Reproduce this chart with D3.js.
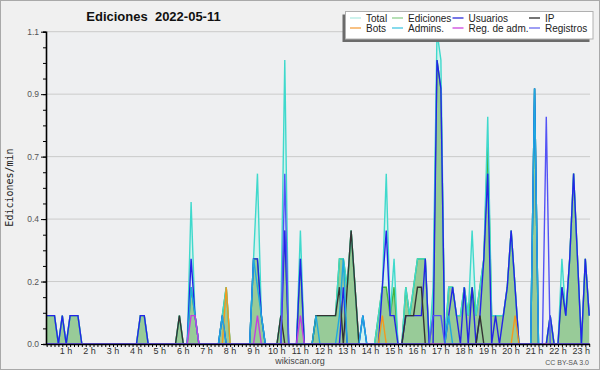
<!DOCTYPE html>
<html><head><meta charset="utf-8">
<script src="https://cdn.jsdelivr.net/npm/d3@7"></script>
<style>body{margin:0;background:#f0f0f0}svg{display:block}text{white-space:pre}</style>
</head><body><svg id="c" width="600" height="370"></svg>
<script>
// 10-minute samples (index 0 = 00:00) of edits per minute
const total = [
0.1,0.1,0.1,0,0.1,0,0.1,0.1,0.1,0,
0,0,0,0,0,0,0,0,0,0,
0,0,0,0,0.1,0.1,0,0,0,0,
0,0,0,0,0.1,0,0,0.5,0.1,0,
0,0,0,0,0,0.1,0.2,0,0,0,
0,0,0,0.3,0.6,0.1,0,0,0,0,
0.1,1.0,0,0,0,0.4,0,0,0,0.1,
0.1,0.1,0.1,0.1,0.1,0.3,0.3,0.2,0.4,0.2,
0,0.1,0,0,0,0.1,0.2,0.6,0.1,0.3,
0,0,0.2,0.1,0.2,0.3,0.3,0.3,0,0.2,
1.1,1.0,0,0.2,0.2,0.1,0.1,0.2,0.1,0.4,
0.1,0.2,0.3,0.8,0.1,0.1,0.1,0.1,0.2,0.4,
0.2,0,0,0,0,0.9,0,0,0,0.1,
0,0,0.3,0.1,0.3,0.6,0.3,0,0.3,0.1];
const ediciones = [
0.1,0.1,0.1,0,0.1,0,0.1,0.1,0.1,0,
0,0,0,0,0,0,0,0,0,0,
0,0,0,0,0.1,0.1,0,0,0,0,
0,0,0,0,0.1,0,0,0.2,0.1,0,
0,0,0,0,0,0.1,0.2,0,0,0,
0,0,0,0.3,0.3,0.1,0,0,0,0,
0.1,0.4,0,0,0,0.3,0,0,0,0.1,
0.1,0.1,0.1,0.1,0.1,0.3,0.3,0.2,0.4,0.2,
0,0,0,0,0,0.1,0.2,0.2,0.1,0.2,
0,0,0.2,0.1,0.2,0.3,0.3,0.3,0,0.1,
1.0,0.9,0,0.2,0.2,0.1,0.1,0.2,0.1,0.2,
0.1,0.2,0.3,0.7,0.1,0.1,0.1,0.1,0.2,0.4,
0.2,0,0,0,0,0.9,0,0,0,0.1,
0,0,0.2,0.1,0.3,0.6,0.3,0,0.3,0.1];
const usuarios = [
0.1,0.1,0.1,0,0.1,0,0.1,0.1,0.1,0,
0,0,0,0,0,0,0,0,0,0,
0,0,0,0,0.1,0.1,0,0,0,0,
0,0,0,0,0,0,0,0.3,0.1,0,
0,0,0,0,0,0.1,0,0,0,0,
0,0,0,0.3,0.3,0.1,0,0,0,0,
0,0.4,0,0,0,0.3,0,0,0,0,
0,0,0,0,0,0,0.2,0,0,0,
0,0.1,0,0,0,0,0.2,0.4,0.1,0.1,
0,0,0.1,0.1,0.1,0.1,0.1,0.3,0,0,
1.0,0.9,0,0.1,0.2,0.1,0,0.2,0,0.2,
0,0.1,0.3,0.6,0,0.1,0,0.1,0.2,0.4,
0.2,0,0,0,0,0.9,0,0,0,0.1,
0,0,0.2,0.1,0.3,0.6,0.3,0,0.3,0.1];
const ip = [
0,0,0,0,0,0,0,0,0,0,
0,0,0,0,0,0,0,0,0,0,
0,0,0,0,0,0,0,0,0,0,
0,0,0,0,0.1,0,0,0,0,0,
0,0,0,0,0,0,0,0,0,0,
0,0,0,0,0,0,0,0,0,0,
0.1,0,0,0,0,0,0,0,0,0.1,
0.1,0.1,0.1,0.1,0.1,0.2,0,0.2,0.4,0.2,
0,0,0,0,0,0,0,0,0,0,
0,0,0.1,0.1,0.1,0.2,0.2,0,0,0,
0,0,0,0,0,0,0,0,0,0,
0,0.1,0,0,0,0,0,0,0,0,
0,0,0,0,0,0,0,0,0,0,
0,0,0,0,0,0,0,0,0,0];
const bots = [
0,0,0,0,0,0,0,0,0,0,
0,0,0,0,0,0,0,0,0,0,
0,0,0,0,0,0,0,0,0,0,
0,0,0,0,0,0,0,0,0,0,
0,0,0,0,0,0,0.2,0,0,0,
0,0,0,0,0,0,0,0,0,0,
0,0,0,0,0,0,0,0,0,0,
0,0,0,0,0,0,0,0,0,0,
0,0,0,0,0,0,0.1,0,0,0,
0,0,0,0,0,0,0,0,0,0,
0,0,0,0,0,0,0,0,0,0,
0,0,0,0,0,0,0,0,0,0,
0.1,0,0,0,0,0,0,0,0,0,
0,0,0,0,0,0,0,0,0,0];
const admins = [
0,0,0,0,0,0,0,0,0,0,
0,0,0,0,0,0,0,0,0,0,
0,0,0,0,0,0,0,0,0,0,
0,0,0,0,0,0,0,0.2,0.1,0,
0,0,0,0,0,0.1,0,0,0,0,
0,0,0,0.3,0.2,0.1,0,0,0,0,
0,0,0,0,0,0,0,0,0,0.1,
0,0,0,0,0,0.1,0.3,0,0,0,
0,0.1,0,0,0,0,0,0,0,0,
0,0,0,0,0,0,0,0,0,0,
0,0,0,0.1,0,0,0,0,0,0,
0,0,0,0,0,0,0,0,0,0,
0,0,0,0,0,0.9,0,0,0,0,
0,0,0,0,0,0,0,0,0,0];
const regAdm = [
0,0,0,0,0,0,0,0,0,0,
0,0,0,0,0,0,0,0,0,0,
0,0,0,0,0,0,0,0,0,0,
0,0,0,0,0,0,0,0.1,0.1,0,
0,0,0,0,0,0,0,0,0,0,
0,0,0,0,0.1,0,0,0,0,0,
0,0,0,0,0,0.1,0,0,0,0,
0,0,0,0,0,0,0,0,0,0,
0,0,0,0,0,0,0,0,0,0,
0,0,0,0,0,0,0,0,0,0,
0,0,0,0,0,0,0,0,0,0,
0,0,0,0,0,0,0,0,0,0,
0,0,0,0,0,0,0,0,0,0,
0,0,0,0,0,0,0,0,0,0];
const registros = [
0,0,0,0,0,0,0,0,0,0,
0,0,0,0,0,0,0,0,0,0,
0,0,0,0,0,0,0,0,0,0,
0,0,0,0,0,0,0,0,0,0,
0,0,0,0,0,0,0,0,0,0,
0,0,0,0,0,0,0,0,0,0,
0,0.6,0,0,0,0,0,0,0,0,
0,0,0,0,0,0,0,0,0,0,
0,0,0,0,0,0,0,0,0,0,
0,0,0,0,0,0,0,0,0,0.1,
0.1,0.1,0,0,0,0,0,0,0,0,
0,0,0,0,0,0,0,0,0,0,
0,0,0,0,0,0,0,0,0.8,0,
0,0,0,0,0,0,0,0,0,0];

const hourLabels = d3.range(1,24).map(h => h + " h");
const yTicks = [0, 0.22, 0.44, 0.66, 0.88, 1.1];
const yTickLabels = ["0.0","0.2","0.4","0.7","0.9","1.1"];
const legendNames = ["Total","Ediciones","Usuarios","IP","Bots","Admins.","Reg. de adm.","Registros"];
const legendColors = ["#b2ebe4","#8fd08f","#2b2bd8","#2a2a2a","#f4a040","#45c6e2","#cc44dd","#6a6aee"];

const W = 600, H = 370;
const pL = 46, pR = 590, pT = 31.7, pB = 344;
const svg = d3.select("#c");
const font = "'Liberation Sans', Arial, sans-serif";

svg.append("rect").attr("x",0.5).attr("y",0.5).attr("width",W-1).attr("height",H-1)
  .attr("fill","#f0f0f0").attr("stroke","#a9a9a9");
svg.append("rect").attr("x",pL).attr("y",pT).attr("width",pR-pL).attr("height",pB-pT)
  .attr("fill","#eeeff1");

const x = d3.scaleLinear().domain([-0.1, 139.2]).range([46.3, pR]);
const y = d3.scaleLinear().domain([0, 1.1]).range([pB, pT]);

// grid
svg.append("g").selectAll("line").data(yTicks.slice(1)).join("line")
  .attr("x1",pL).attr("x2",pR).attr("y1",d=>y(d)).attr("y2",d=>y(d))
  .attr("stroke","#cbcbcb").attr("stroke-width",1);

svg.append("clipPath").attr("id","pc").append("rect")
  .attr("x",pL).attr("y",pT-2).attr("width",pR-pL).attr("height",pB-pT+2);
const gp = svg.append("g").attr("clip-path","url(#pc)");

const idx = d3.range(total.length);
const area = arr => d3.area().x(i=>x(i)).y0(pB).y1(i=>y(arr[i]))(idx);
const line = arr => d3.line().x(i=>x(i)).y(i=>y(arr[i]))(idx);

gp.append("path").attr("d",area(total)).attr("fill","#d3f2ee");
gp.append("path").attr("d",area(ediciones)).attr("fill","#98cb98");
gp.append("path").attr("d",line(ediciones)).attr("fill","none").attr("stroke","#3fb43f").attr("stroke-width",1.4);
gp.append("path").attr("d",line(total)).attr("fill","none").attr("stroke","#3fd9cc").attr("stroke-width",1.4);
const lines = [
  [usuarios,"#2424e6"],[ip,"#333333"],[bots,"#f39a1e"],[admins,"#1ea9e0"],[regAdm,"#c53ee0"],[registros,"#5353f5"]
];
lines.forEach(([arr,c])=>{
  gp.append("path").attr("d",line(arr)).attr("fill","none").attr("stroke",c).attr("stroke-width",1.4);
});

// axes
const yAxisG = svg.append("g").attr("transform",`translate(${pL},0)`);
yAxisG.call(d3.axisLeft(y).tickValues(d3.range(0,21).map(k=>k*0.055)).tickSize(3).tickFormat(""));
yAxisG.selectAll(".tick line").attr("stroke","#000");
const yMaj = svg.append("g").attr("transform",`translate(${pL},0)`)
  .call(d3.axisLeft(y).tickValues(yTicks).tickSize(5).tickFormat((d,i)=>yTickLabels[i]));
yMaj.select(".domain").remove();
yMaj.selectAll(".tick line").attr("stroke","#000");
yMaj.selectAll("text").attr("font-family",font).attr("font-size",8.5).attr("fill","#555").attr("dx",1);
yAxisG.select(".domain").attr("stroke","#000").attr("stroke-width",1.6);

const xAxisG = svg.append("g").attr("transform",`translate(0,${pB})`)
  .call(d3.axisBottom(x).tickValues(d3.range(0,140)).tickSize(3).tickFormat(""));
xAxisG.select(".domain").attr("d",`M${pL},0.5H${pR}`).attr("stroke","#000").attr("stroke-width",1.6);
xAxisG.selectAll(".tick line").attr("stroke","#000");
svg.append("g").selectAll("text").data(hourLabels).join("text")
  .attr("x",(d,i)=>x((i+1)*6)-4).attr("y",353.5)
  .attr("text-anchor","middle").attr("font-family",font).attr("font-size",9).attr("fill","#333")
  .text(d=>d);

// titles
svg.append("text").attr("x",153.5).attr("y",21).attr("text-anchor","middle")
  .attr("font-family",font).attr("font-weight","bold").attr("font-size",13).attr("fill","#111")
  .text("Ediciones  2022-05-11");
svg.append("text").attr("transform","translate(13,187.5) rotate(-90)").attr("text-anchor","middle")
  .attr("font-family","'DejaVu Sans Mono', monospace").attr("font-size",10).attr("fill","#222")
  .text("Ediciones/min");
svg.append("text").attr("x",300).attr("y",363.5).attr("text-anchor","middle")
  .attr("font-family",font).attr("font-size",9).attr("fill","#444").text("wikiscan.org");
svg.append("text").attr("x",589).attr("y",365).attr("text-anchor","end")
  .attr("font-family",font).attr("font-size",7).attr("fill","#555").text("CC BY-SA 3.0");

// legend
svg.append("rect").attr("x",342.5).attr("y",14.5).attr("width",247).attr("height",27.5).attr("fill","#6b6b6b");
svg.append("rect").attr("x",345.5).attr("y",11.5).attr("width",247.5).attr("height",27.5)
  .attr("fill","#ffffff").attr("stroke","#b0b0b0");
const colX = [366,408,468.5,545];
const rowY = [21.5,31.5];
const lg = svg.append("g").selectAll("g").data(legendNames).join("g")
  .attr("transform",(d,i)=>`translate(${colX[i%4]},${rowY[Math.floor(i/4)]})`);
lg.append("line").attr("x1",-16).attr("x2",-5).attr("y1",-3.5).attr("y2",-3.5)
  .attr("stroke",(d,i)=>legendColors[i]).attr("stroke-width",1.3);
lg.append("text").attr("font-family",font).attr("font-size",10).attr("fill","#222").text(d=>d);
</script></body></html>
